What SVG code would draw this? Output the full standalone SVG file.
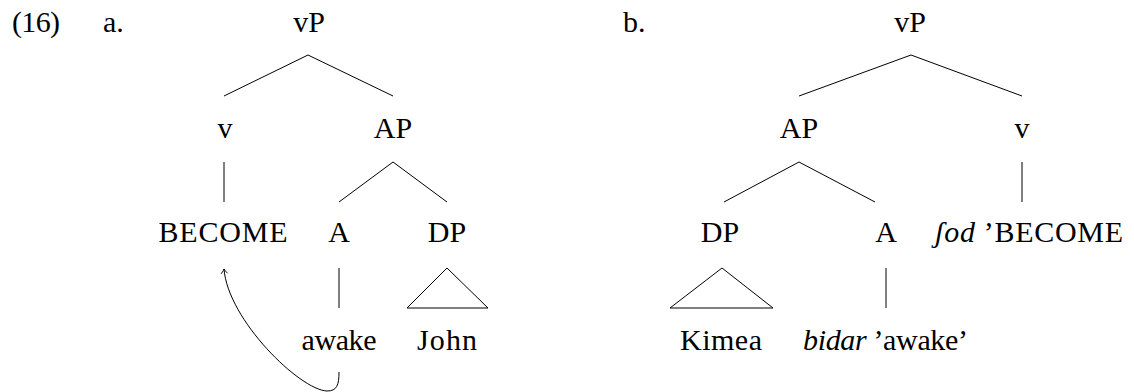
<svg xmlns="http://www.w3.org/2000/svg" width="1134" height="392" viewBox="0 0 1134 392">
<style>
.m{text-anchor:middle}
.i{font-style:italic}
.e{stroke:#000;stroke-width:1;fill:none}
</style>
<defs>
<marker id="ah" markerUnits="userSpaceOnUse" markerWidth="12" markerHeight="12" refX="0" refY="0" viewBox="-6 -6 12 12" orient="auto">
<path d="M-4.5,-3.2 Q-1.5,-0.6 0,0 Q-1.5,0.6 -4.5,3.2" fill="none" stroke="#000" stroke-width="0.9"/>
</marker>
</defs>
<rect width="1134" height="392" fill="#fff"/>
<g font-family="Liberation Serif, DejaVu Serif, serif" font-size="30" fill="#000">
<text x="12" y="32" textLength="48">(16)</text>
<text x="103" y="32">a.</text>
<text x="623" y="32">b.</text>
<g id="connectors" class="e">
<path d="M308,55 L224,96 M308,55 L393,96"/>
<path d="M224,162 L224,202"/>
<path d="M393,162 L339,202 M393,162 L447,202"/>
<path d="M339,268 L339,308"/>
<path d="M447,268 L407,308 L488,308 Z"/>
<path d="M339,372 C339,385 337,391 327,391 C300,390 228,320 224,269" marker-end="url(#ah)"/>
<path d="M911,55 L799,96 M911,55 L1022,96"/>
<path d="M799,162 L724,202 M799,162 L875,202"/>
<path d="M1022,162 L1022,202"/>
<path d="M722,268 L670,308 L773,308 Z"/>
<path d="M886,268 L886,308"/>
</g>
<g id="a-vP"><text class="m" x="309" y="32">vP</text></g>
<g id="a-v"><text class="m" x="225" y="138">v</text></g>
<g id="a-AP"><text class="m" x="393" y="138">AP</text></g>
<g id="a-BECOME"><text class="m" x="223" y="242" textLength="129">BECOME</text></g>
<g id="a-A"><text class="m" x="339" y="242">A</text></g>
<g id="a-DP"><text class="m" x="447" y="242">DP</text></g>
<g id="a-awake"><text class="m" x="339" y="350" textLength="75">awake</text></g>
<g id="a-John"><text class="m" x="447" y="350" textLength="60">John</text></g>
<g id="b-vP"><text class="m" x="910" y="32">vP</text></g>
<g id="b-AP"><text class="m" x="799" y="138">AP</text></g>
<g id="b-v"><text class="m" x="1022" y="138">v</text></g>
<g id="b-DP"><text class="m" x="720" y="242">DP</text></g>
<g id="b-A"><text class="m" x="886" y="242">A</text></g>
<g id="b-fod"><text x="935" y="242" textLength="188"><tspan class="i">ʃod</tspan> ’BECOME</text></g>
<g id="b-Kimea"><text class="m" x="721" y="350" textLength="82">Kimea</text></g>
<g id="b-bidar"><text x="803" y="350" textLength="165"><tspan class="i">bidar</tspan> ’awake’</text></g>
</g>
</svg>
